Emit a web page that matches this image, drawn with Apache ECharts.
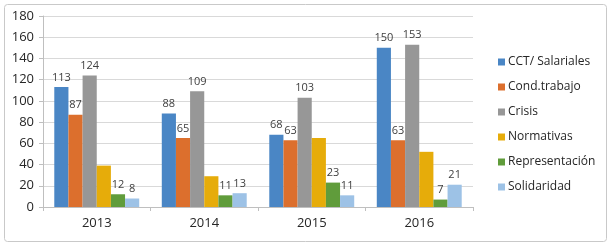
<!DOCTYPE html>
<html>
<head>
<meta charset="utf-8">
<script src="https://cdn.jsdelivr.net/npm/echarts@6/dist/echarts.min.js"></script>
<style>
  html, body { margin: 0; padding: 0; background: #fff; }
  #chart { width: 609px; height: 243px; }
</style>
</head>
<body>
<div id="chart"></div>
<script>
// categorias y valores
var years = ['2013', '2014', '2015', '2016']
var seriesNames = ['CCT/ Salariales', 'Cond.trabajo', 'Crisis', 'Normativas', 'Representación', 'Solidaridad']
var cctSalariales = [113, 88, 68, 150]
var condTrabajo = [87, 65, 63, 63]
var crisis = [124, 109, 103, 153]
var normativas = [39, 29, 65, 52]
var representacion = [12, 11, 23, 7]
var solidaridad = [8, 13, 11, 21]
var yTicks = [0, 20, 40, 60, 80, 100, 120, 140, 160, 180]

var colors = ['#4a86c5', '#dc6f2d', '#979797', '#e6ac0a', '#609c3b', '#9dc2e6']
var values = [cctSalariales, condTrabajo, crisis, normativas, representacion, solidaridad]
var showLabel = [true, true, true, false, true, true]

var myChart = echarts.init(document.getElementById('chart'))

var series = values.map(function (d, i) {
  return {
    type: 'bar',
    name: seriesNames[i],
    data: d,
    barGap: '0%',
    barCategoryGap: '21%',
    itemStyle: { color: colors[i] },
    label: {
      show: showLabel[i],
      position: 'top',
      distance: 4,
      color: '#404040',
      fontSize: 11,
      fontFamily: 'Open Sans'
    }
  }
})

var option = {
  animation: false,
  color: colors,
  graphic: [{
    type: 'rect',
    left: 2,
    top: 2,
    shape: { width: 602, height: 237, r: 3 },
    style: { fill: 'none', stroke: '#c9c9c9', lineWidth: 1 },
    silent: true
  }],
  grid: {
    left: 43,
    right: 136,
    top: 16,
    bottom: 36
  },
  legend: {
    orient: 'vertical',
    left: 493,
    top: 51,
    itemWidth: 7,
    itemHeight: 7,
    itemGap: 13,
    icon: 'rect',
    data: seriesNames,
    textStyle: {
      color: '#262626',
      fontSize: 12,
      fontFamily: 'Open Sans',
      padding: [0, 0, 0, -2]
    }
  },
  xAxis: {
    type: 'category',
    data: years,
    axisLine: { lineStyle: { color: '#bfbfbf' } },
    axisTick: { show: true, length: 4, lineStyle: { color: '#bfbfbf' } },
    axisLabel: {
      color: '#262626',
      fontSize: 13,
      fontFamily: 'Open Sans',
      margin: 10
    }
  },
  yAxis: {
    type: 'value',
    min: yTicks[0],
    max: yTicks[yTicks.length - 1],
    interval: 20,
    axisLine: { show: true, lineStyle: { color: '#bfbfbf' } },
    axisTick: { show: true, length: 4, lineStyle: { color: '#bfbfbf' } },
    splitLine: { lineStyle: { color: '#d9d9d9' } },
    axisLabel: {
      color: '#262626',
      fontSize: 13,
      fontFamily: 'Open Sans',
      margin: 9
    }
  },
  series: series
}

myChart.setOption(option, true)
window.addEventListener('resize', function () {
  myChart.resize()
})
</script>
</body>
</html>
